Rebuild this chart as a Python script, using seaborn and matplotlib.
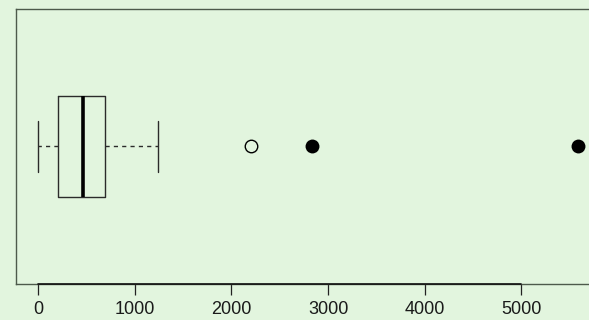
import matplotlib
matplotlib.use("Agg")
import matplotlib.pyplot as plt
import seaborn as sns
import pandas as pd

# Sample whose five-number summary drives the box (one value beyond the fence)
amounts = [5, 110, 204, 330, 465, 580, 693, 1238, 2200]
# Highlighted observations drawn as solid dots
highlight = [2832, 5580]
xticks = [0, 1000, 2000, 3000, 4000, 5000]

bg = "#E2F5DE"
sns.set_theme(style="white")
plt.rcParams["font.family"] = ["Liberation Sans", "DejaVu Sans"]

fig = plt.figure(figsize=(5.89, 3.2), dpi=100, facecolor=bg)
ax = fig.add_axes([0.028, 0.1125, 0.9887, 0.8594])
ax.set_facecolor(bg)

df = pd.DataFrame({"amount": amounts, "grp": ["a"] * len(amounts)})
hl = pd.DataFrame({"amount": highlight, "grp": ["a"] * len(highlight)})

line_col = "#2b2b2b"
sns.boxplot(
    data=df, x="amount", y="grp", orient="h", ax=ax,
    fill=False, width=0.4, color=line_col, linewidth=1.0,
    whis=1.5,
    boxprops={"color": line_col},
    medianprops={"linewidth": 2.6, "color": "black"},
    whiskerprops={"linestyle": (0, (3, 3)), "linewidth": 1.0, "color": line_col},
    capprops={"linewidth": 1.0, "color": line_col},
    flierprops={"marker": "o", "markersize": 9, "markerfacecolor": "none",
                "markeredgecolor": "black", "markeredgewidth": 1.0},
)
sns.scatterplot(data=hl, x="amount", y="grp", ax=ax, color="black",
                s=100, edgecolor="black", linewidth=0, zorder=5)

ax.set_xlim(-222, 5800)
ax.set_ylim(0.54, -0.54)
ax.set_xlabel("")
ax.set_ylabel("")
ax.set_yticks([])
ax.set_xticks(xticks)
ax.set_xticklabels([str(t) for t in xticks])
ax.tick_params(axis="x", bottom=True, length=8, width=0.9, color="#222222",
               pad=4, labelsize=13, labelcolor="#1a1a1a", direction="out")

for side in ["top", "bottom", "left", "right"]:
    ax.spines[side].set_visible(True)
    ax.spines[side].set_color("#4d5a4b")
    ax.spines[side].set_linewidth(1.0)

# Axis line spanning the tick range
ax.plot([xticks[0], xticks[-1]], [0, 0], transform=ax.get_xaxis_transform(),
        color="#111111", linewidth=1.2, clip_on=False, zorder=6)

fig.savefig("out.png", dpi=100, facecolor=bg)
